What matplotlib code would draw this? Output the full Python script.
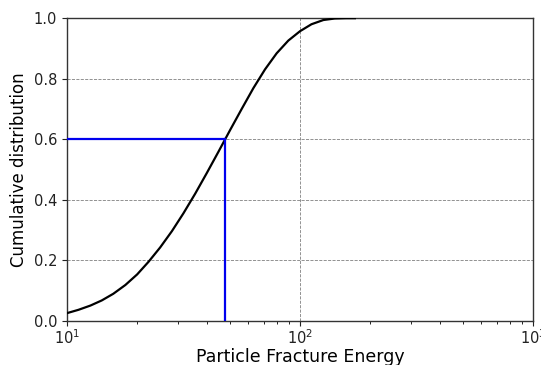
import matplotlib
matplotlib.use("Agg")
import matplotlib.pyplot as plt

# Curve values
energy = [10, 11.2, 12.6, 14.1, 15.8, 17.8, 20, 22.4, 25.1, 28.2, 31.6, 35.5, 39.8,
          44.7, 50.1, 56.2, 63.1, 70.8, 79.4, 89.1, 100, 112, 126, 141, 158, 172]
cdf = [0.025, 0.036, 0.050, 0.067, 0.089, 0.118, 0.153, 0.195, 0.242, 0.296, 0.355,
       0.420, 0.488, 0.559, 0.630, 0.700, 0.769, 0.831, 0.884, 0.926, 0.957, 0.980,
       0.994, 0.999, 1.0, 1.0]

marker_x = 47.8
marker_y = 0.6
x_limits = [10, 1000]
y_limits = [0.0, 1.0]
y_ticks = [0.0, 0.2, 0.4, 0.6, 0.8, 1.0]

fig = plt.figure(figsize=(5.41, 3.65), dpi=100)
ax = fig.add_axes([67/541, (365-320.7)/365, (533-67)/541, (320.7-18.2)/365])

ax.plot(energy, cdf, color='black', lw=1.6, zorder=3)
ax.plot([x_limits[0], marker_x], [marker_y, marker_y], color='#0000ee', lw=1.6, zorder=4)
ax.plot([marker_x, marker_x], [y_limits[0], marker_y], color='#0000ee', lw=1.6, zorder=4)

ax.set_xscale('log')
ax.set_xlim(x_limits)
ax.set_ylim(y_limits)
ax.set_yticks(y_ticks)
ax.grid(True, which='major', linestyle='--', color='gray', lw=0.6)

for s in ax.spines.values():
    s.set_color('#333333')
    s.set_linewidth(1.0)
ax.tick_params(labelsize=10.5, colors='#222222')
ax.tick_params(axis='x', which='major', pad=2)

ax.set_xlabel('Particle Fracture Energy', fontsize=12.5, labelpad=1)
ax.set_ylabel('Cumulative distribution', fontsize=12)

fig.savefig('out.png', dpi=100)
